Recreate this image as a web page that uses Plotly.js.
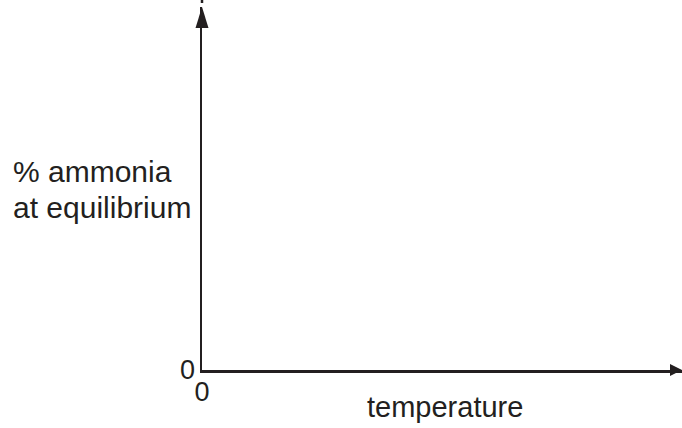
<!DOCTYPE html>
<html>
<head>
<meta charset="utf-8">
<script src="https://cdn.plot.ly/plotly-3.0.1.min.js"></script>
<style>html,body{margin:0;padding:0;background:#fff;}#chart{width:682px;height:428px;}</style>
</head>
<body>
<div id="chart"></div>
<script>
// Sketch axes only: no plotted series in the reference
const xTickVals = [0];
const xTickText = ['0'];
const yTickVals = [0];
const yTickText = ['0'];
const xLabel = 'temperature';
const yLabelLines = ['% ammonia', 'at equilibrium'];
const xRange = [0, 10];
const yRange = [0, 10];

const ink = '#231f20';
const font = 'Liberation Sans, Arial, Helvetica, sans-serif';

const data = [{x: [], y: [], type: 'scatter', mode: 'lines', showlegend: false}];

const yLabelPos = [0.5455, 0.449];

const layout = {
  width: 682, height: 428,
  margin: {l: 202, r: 0, t: 7, b: 58, pad: 0},
  paper_bgcolor: '#fff', plot_bgcolor: '#fff',
  showlegend: false,
  xaxis: {
    range: xRange, showgrid: false, zeroline: false,
    showline: true, linecolor: ink, linewidth: 2.5,
    tickvals: xTickVals, ticktext: xTickText, ticks: '',
    tickfont: {family: font, size: 27, color: ink},
    ticklabelstandoff: -4, fixedrange: true
  },
  yaxis: {
    range: yRange, showgrid: false, zeroline: false,
    showline: true, linecolor: ink, linewidth: 2.5,
    tickvals: yTickVals, ticktext: yTickText, ticks: '',
    tickfont: {family: font, size: 27, color: ink},
    ticklabelstandoff: -1, fixedrange: true
  },
  shapes: [
    {type: 'path', xref: 'paper', yref: 'paper', xsizemode: 'pixel', ysizemode: 'pixel',
     xanchor: 1, yanchor: 0, path: 'M0,0 L-12,6 L-12,-6 Z',
     fillcolor: ink, line: {width: 0}},
    {type: 'path', xref: 'paper', yref: 'paper', xsizemode: 'pixel', ysizemode: 'pixel',
     xanchor: 0, yanchor: 1, path: 'M0,0 L-6.5,-21 L6.5,-21 Z',
     fillcolor: ink, line: {width: 0}},
    {type: 'line', xref: 'paper', yref: 'paper', xsizemode: 'pixel', ysizemode: 'pixel',
     xanchor: 0, yanchor: 1, x0: 0, x1: 0, y0: 4, y1: 8,
     line: {color: ink, width: 2.5}}
  ],
  annotations: yLabelLines.map((t, i) => ({
    xref: 'paper', yref: 'paper', x: -0.398, y: yLabelPos[i], xanchor: 'left', yanchor: 'middle',
    align: 'left', showarrow: false, text: t,
    font: {family: font, size: 30, color: ink}
  })).concat([
    {xref: 'paper', yref: 'paper', x: 0.506, y: -0.102, xanchor: 'center', yanchor: 'middle',
     showarrow: false, text: xLabel,
     font: {family: font, size: 29, color: ink}}
  ])
};

Plotly.newPlot('chart', data, layout, {staticPlot: true, displayModeBar: false});
</script>
</body>
</html>
